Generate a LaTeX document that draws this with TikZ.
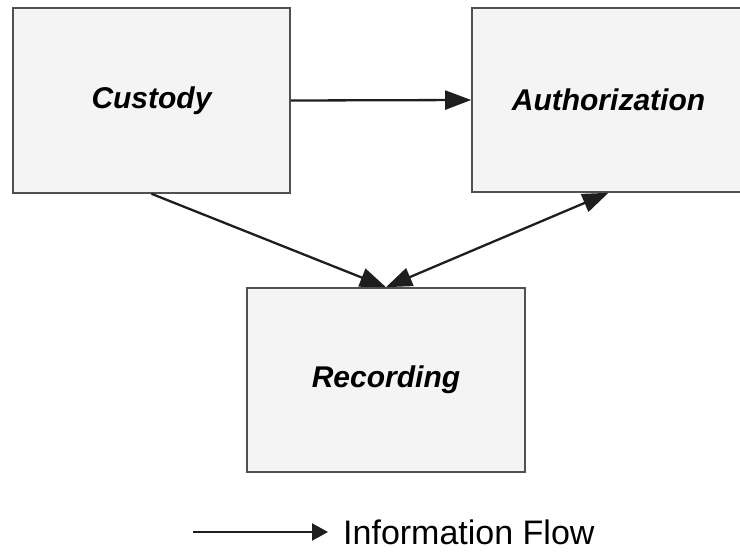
\documentclass[tikz,border=0pt]{standalone}
\usepackage{fontspec}
\setmainfont{Liberation Sans}
\usetikzlibrary{positioning, arrows.meta, calc}
\definecolor{boxfill}{RGB}{244,244,244}
\definecolor{boxline}{RGB}{80,80,80}
\definecolor{flowink}{RGB}{30,30,30}

\begin{document}
\begin{tikzpicture}[x=1pt, y=1pt,
    unit/.style={draw=boxline, line width=1.6pt, fill=boxfill, inner sep=0pt,
      font=\fontsize{30}{35}\selectfont\bfseries\itshape},
    flow/.style={line width=2.3pt, flowink, -{Triangle[length=26pt, width=19pt]}},
    legendtext/.style={font=\fontsize{34}{40}\selectfont, inner sep=0pt}]
        \useasboundingbox (0,0) rectangle (740,-552);
        % подразделения
        \node[unit, minimum width=277pt, minimum height=185pt] (custody) at (151.5,-100.5) {Custody};
        \node[unit, minimum width=273pt, minimum height=184pt] (auth) at (608.5,-100) {Authorization};
        \node[unit, minimum width=278pt, minimum height=184pt] (rec) at (386,-380) {Recording};
        \draw[flow] (custody.east) -- (auth.west);
        \draw[flow] (custody.south) -- (rec.north);
        \draw[flow, {Triangle[length=26pt, width=19pt]}-{Triangle[length=26pt, width=19pt]}] (rec.north) -- (auth.south);
        % легенда
        \node[legendtext, anchor=base west] (legend) at (343,-544) {Information Flow};
        \coordinate (flowstart) at (193,-532);
        \draw[line width=2.3pt, flowink, -{Triangle[length=16pt, width=17pt]}] (flowstart) -- ($(flowstart -| legend.west)+(-15,0)$);
      \end{tikzpicture}
\end{document}
